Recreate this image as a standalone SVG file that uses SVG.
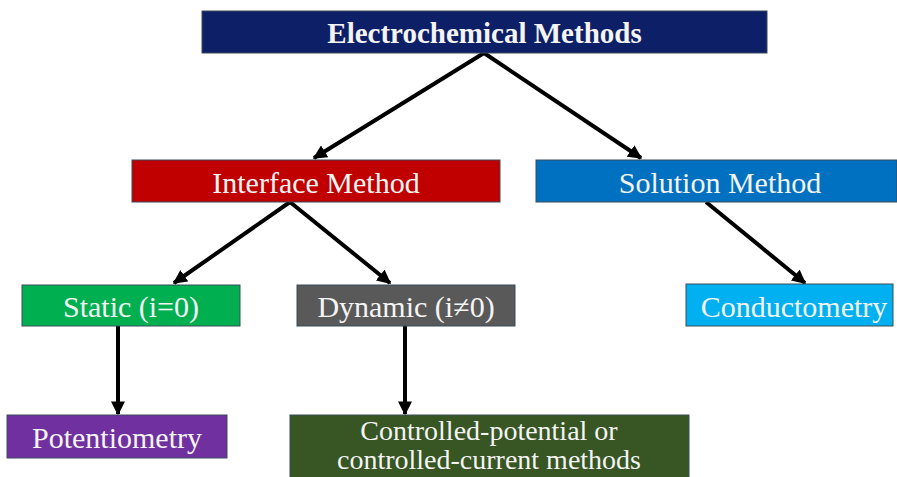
<svg xmlns="http://www.w3.org/2000/svg" width="897" height="477" viewBox="0 0 897 477">
<defs>
<marker id="ah2" viewBox="0 0 10 10" markerWidth="14" markerHeight="14" refX="9" refY="5" orient="auto" markerUnits="userSpaceOnUse">
<path d="M0,0 L10,5 L0,10 Z" fill="#000"/>
</marker>
</defs>
<style>
.box{stroke:#3a4a5a;stroke-width:1}
.t{font-family:"Liberation Serif","Times New Roman",serif;font-size:30px;fill:#f4f4f4;text-anchor:middle}
.b{font-weight:bold;font-size:29px}
.s{font-size:28px}
.c{stroke:#000;stroke-width:4;fill:none;marker-end:url(#ah2)}
</style>
<rect width="897" height="477" fill="#fff"/>
<g id="connectors">
<line class="c" x1="484" y1="53" x2="314" y2="158"/>
<line class="c" x1="484" y1="53" x2="641" y2="158"/>
<line class="c" x1="290" y1="202" x2="174" y2="283"/>
<line class="c" x1="290" y1="202" x2="390" y2="283"/>
<line class="c" x1="706" y1="202" x2="805" y2="283"/>
<line class="c" x1="118" y1="326" x2="118" y2="414"/>
<line class="c" x1="405" y1="326" x2="405" y2="414"/>
</g>
<g id="electrochemical">
<rect class="box" x="202" y="11" width="565" height="42" fill="#0d1f66"/>
<text class="t b" x="484.5" y="43">Electrochemical Methods</text>
</g>
<g id="interface">
<rect class="box" x="132" y="160" width="368" height="42" fill="#c00000"/>
<text class="t" x="316" y="193">Interface Method</text>
</g>
<g id="solution">
<rect class="box" x="536" y="160" width="361" height="42" fill="#0070c0"/>
<text class="t" x="720" y="193">Solution Method</text>
</g>
<g id="static">
<rect class="box" x="22" y="285" width="218" height="41" fill="#00b050"/>
<text class="t" x="131" y="317">Static (i=0)</text>
</g>
<g id="dynamic">
<rect class="box" x="297" y="285" width="218" height="41" fill="#595959"/>
<text class="t" x="406" y="317">Dynamic (i≠0)</text>
</g>
<g id="conductometry">
<rect class="box" x="686" y="284" width="207" height="42" fill="#00b0f0"/>
<text class="t" x="794" y="317">Conductometry</text>
</g>
<g id="potentiometry">
<rect class="box" x="7" y="415" width="220" height="43" fill="#7030a0"/>
<text class="t" x="117" y="448">Potentiometry</text>
</g>
<g id="controlled">
<rect class="box" x="290" y="415" width="399" height="70" fill="#375623"/>
<text class="t s" x="489" y="440">Controlled-potential or</text>
<text class="t s" x="489" y="469">controlled-current methods</text>
</g>
</svg>
